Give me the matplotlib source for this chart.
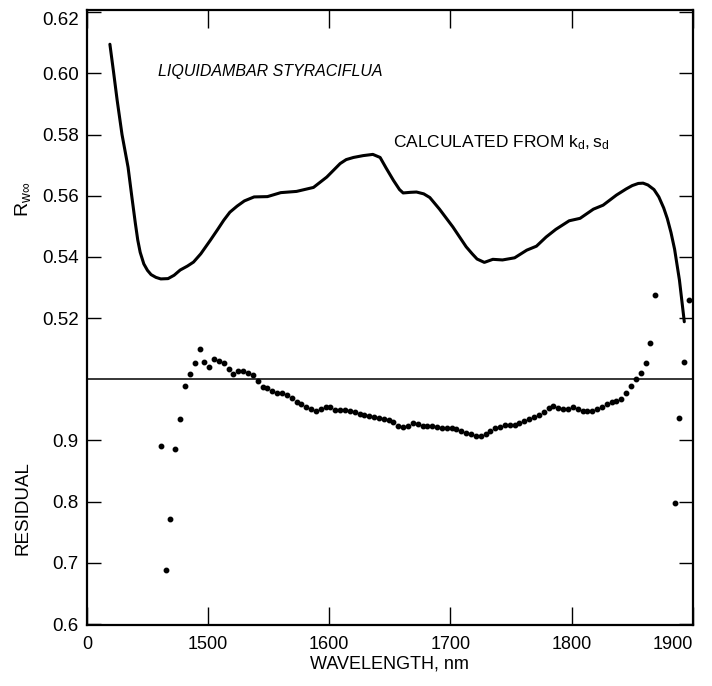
import numpy as np
import matplotlib
matplotlib.use("Agg")
import matplotlib.pyplot as plt

plt.rcParams['font.family'] = ['Liberation Sans', 'DejaVu Sans']
plt.rcParams['mathtext.fontset'] = 'custom'
plt.rcParams['mathtext.rm'] = 'Liberation Sans'
plt.rcParams['mathtext.it'] = 'Liberation Sans'

# R_w-infinity curve (calculated from kd, sd)
curve_nm = [1419, 1422, 1425, 1429, 1434, 1437, 1440, 1442, 1444, 1447,
            1450, 1453, 1457, 1461, 1467, 1472, 1477, 1483, 1488,
            1494, 1502, 1508, 1513, 1518, 1524, 1530, 1538, 1549, 1560, 1573, 1587, 1598,
            1604, 1609, 1614, 1620, 1628, 1636, 1642, 1647, 1653, 1658, 1661, 1667, 1672, 1678, 1683, 1691, 1702,
            1713, 1718, 1722, 1728, 1735, 1743, 1753, 1763, 1771, 1779, 1787,
            1798, 1807, 1818, 1826, 1837, 1845, 1850, 1855, 1859, 1863, 1868, 1872, 1876, 1879,
            1882, 1885, 1889, 1893]
curve_r = [0.6095, 0.6005, 0.5912, 0.5800, 0.5693, 0.5600, 0.5510, 0.5455, 0.5415, 0.5377,
           0.5356, 0.5342, 0.5333, 0.5328, 0.5329, 0.5340, 0.5357, 0.5370, 0.5383,
           0.5410, 0.5455, 0.5490, 0.5520, 0.5546, 0.5566, 0.5583, 0.5596, 0.5597, 0.5610, 0.5614, 0.5627, 0.5661,
           0.5685, 0.5705, 0.5718, 0.5725, 0.5731, 0.5735, 0.5725, 0.5690, 0.5650, 0.5620, 0.5609, 0.5611, 0.5612, 0.5606, 0.5594, 0.5556, 0.5498,
           0.5433, 0.5410, 0.5393, 0.5382, 0.5392, 0.5390, 0.5397, 0.5422, 0.5435, 0.5465, 0.5490,
           0.5518, 0.5526, 0.5556, 0.5569, 0.5602, 0.5622, 0.5633, 0.5640, 0.5641, 0.5635, 0.5620, 0.5596, 0.5560, 0.5525,
           0.5480, 0.5425, 0.5324, 0.5188]

# residuals, one every 4 nm from 1461 nm (nan = no point drawn)
resid_start, resid_step = 1461, 4
residual = [0.891, 0.688, 0.771, 0.886, 0.935, 0.989, 1.009, 1.026, 1.050, 1.029,
            1.020, 1.033, 1.030, 1.026, 1.017, 1.009, 1.013, 1.014, 1.010, 1.007,
            0.997, 0.987, 0.985, 0.981, 0.978, 0.978, 0.975, 0.969, 0.963, 0.959,
            0.955, 0.951, 0.948, 0.952, 0.955, 0.954, 0.950, 0.950, 0.949, 0.948,
            0.946, 0.944, 0.942, 0.940, 0.938, 0.937, 0.935, 0.933, 0.930, 0.924,
            0.922, 0.924, 0.928, 0.927, 0.924, 0.924, 0.923, 0.922, 0.921, 0.920,
            0.920, 0.919, 0.915, 0.912, 0.910, 0.907, 0.907, 0.910, 0.915, 0.920,
            0.922, 0.925, 0.926, 0.926, 0.929, 0.932, 0.935, 0.939, 0.942, 0.946,
            0.953, 0.956, 0.953, 0.951, 0.952, 0.954, 0.952, 0.948, 0.948, 0.948,
            0.951, 0.955, 0.960, 0.963, 0.965, 0.967, 0.978, 0.989, 1.000, 1.011,
            1.027, 1.060, 1.138, np.nan, np.nan, np.nan, 0.797, 0.936, 1.028, 1.130]

upper_ticks = [0.52, 0.54, 0.56, 0.58, 0.60, 0.62]
resid_ticks = [0.6, 0.7, 0.8, 0.9]
x_ticks = [1400, 1500, 1600, 1700, 1800, 1900]
x_labels = ['0', '1500', '1600', '1700', '1800', '1900']

resid_nm = resid_start + resid_step * np.arange(len(residual))
# residual panel shares the axis: 1.0 sits on the 0.50 line, 0.1 residual = 0.02
def resid_to_r(v):
    return 0.50 + (np.asarray(v) - 1.0) * 0.2

fig = plt.figure(figsize=(7.12, 6.86), dpi=100)
ax = fig.add_axes([0.122, 0.089, 0.851, 0.896])

ax.plot(curve_nm, curve_r, color='black', linewidth=2.2, solid_capstyle='round',
        solid_joinstyle='round')
ax.plot(resid_nm, resid_to_r(residual), 'o', color='black', markersize=3.2)
ax.axhline(0.50, color='black', linewidth=1.1)

ax.set_xlim(1400, 1900)
ax.set_ylim(0.4197, 0.6206)

for s in ax.spines.values():
    s.set_linewidth(1.6)

# y ticks: both sides, inward
yt = [resid_to_r(v) for v in resid_ticks] + upper_ticks
ylab = [str(v) for v in resid_ticks] + ['%.2f' % v for v in upper_ticks]
ax.set_yticks(yt)
ax.set_yticklabels(ylab, fontsize=13.5)
ax.tick_params(axis='y', direction='in', length=10, width=1.0, left=True, right=True, pad=6)
ax.set_xticks(x_ticks)
ax.set_xticklabels(x_labels, fontsize=13)
ax.tick_params(axis='x', direction='in', length=13, width=1.0, top=True, bottom=True, pad=8)
lbls = ax.get_yticklabels()
lbls[-1].set_verticalalignment('top')
xl = ax.get_xticklabels()
xl[-1].set_horizontalalignment('right')

ax.set_xlabel('WAVELENGTH, nm', fontsize=13, labelpad=2)
fig.text(0.032, 0.71, r'$\mathregular{R_{w\infty}}$', rotation=90, fontsize=14, ha='center', va='center')
fig.text(0.032, 0.26, 'RESIDUAL', rotation=90, fontsize=13.5, ha='center', va='center')

ax.text(1459, 0.6005, 'LIQUIDAMBAR STYRACIFLUA', style='italic', fontsize=11.5, va='center')
ax.text(1653, 0.5775, r'CALCULATED FROM $\mathregular{k_d, s_d}$', fontsize=12.5, va='center')

fig.savefig('out.png', dpi=100)
